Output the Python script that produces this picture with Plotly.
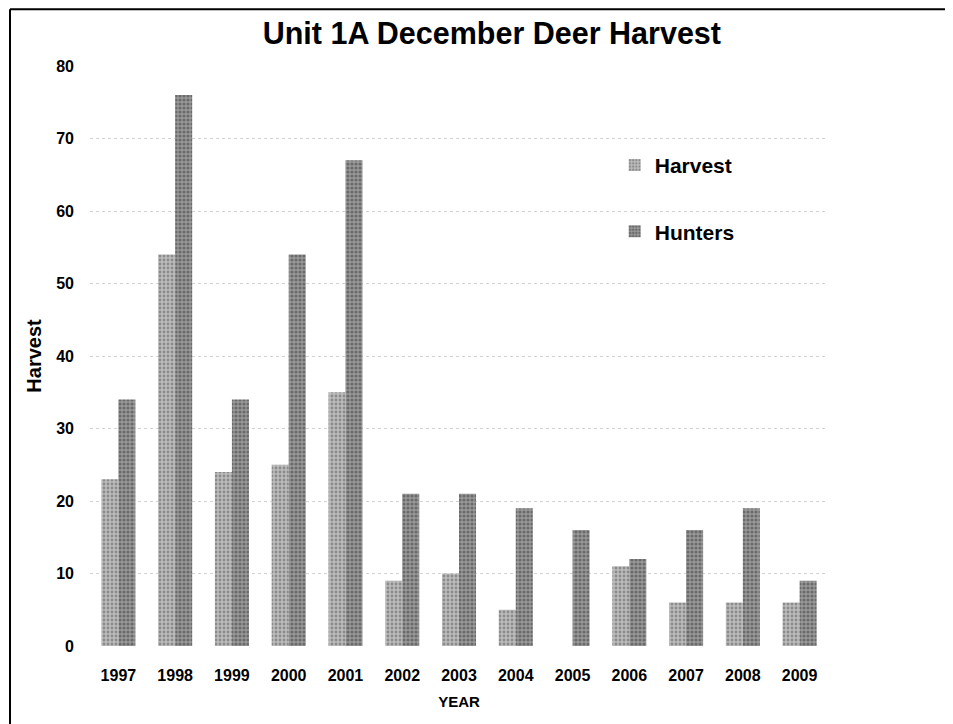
import plotly.graph_objects as go

years = ["1997", "1998", "1999", "2000", "2001", "2002", "2003", "2004", "2005", "2006", "2007", "2008", "2009"]
harvest = [23, 54, 24, 25, 35, 9, 10, 5, 0, 11, 6, 6, 6]
hunters = [34, 76, 34, 54, 67, 21, 21, 19, 16, 12, 16, 19, 9]

FONT = "Liberation Sans, Arial, sans-serif"

fig = go.Figure()
fig.add_trace(go.Bar(
    x=years, y=harvest, name="Harvest", legendgroup="a",
    marker=dict(color="#a8a8a8", line=dict(width=0),
                pattern=dict(shape=".", fgcolor="#5a5a5a", bgcolor="#bcbcbc", size=4, solidity=0.4)),
))
fig.add_trace(go.Bar(
    x=years, y=hunters, name="Hunters", legendgroup="b",
    marker=dict(color="#7e7e7e", line=dict(width=0),
                pattern=dict(shape=".", fgcolor="#3a3a3a", bgcolor="#9a9a9a", size=4, solidity=0.5)),
))

fig.update_layout(
    width=945, height=716,
    margin=dict(l=82, r=125, t=58, b=78, autoexpand=False),
    paper_bgcolor="white", plot_bgcolor="white",
    barmode="group", bargap=0.4, bargroupgap=0,
    title=dict(text="<b>Unit 1A December Deer Harvest</b>", x=0.512, xanchor="center",
               y=0.965, yanchor="middle", font=dict(family=FONT, size=30.5, color="black")),
    font=dict(family=FONT, color="black"),
    legend=dict(x=0.711, y=0.864, xanchor="left", yanchor="top",
                font=dict(family=FONT, size=21, color="black", weight="bold"),
                traceorder="grouped", tracegroupgap=36, itemwidth=30,
                bgcolor="rgba(0,0,0,0)"),
    xaxis=dict(title=dict(text="<b>YEAR</b>", font=dict(size=15), standoff=13),
               tickfont=dict(size=16, weight="bold"), showgrid=False, zeroline=False,
               showline=False, ticks="", ticklabelstandoff=18, automargin=False),
    yaxis=dict(title=dict(text="<b>Harvest</b>", font=dict(size=20), standoff=9),
               range=[0, 80], dtick=10, tickfont=dict(size=16, weight="bold"),
               showgrid=True, gridcolor="#d2d2d2", griddash="dot", gridwidth=1,
               zeroline=False, showline=False, ticks="", ticklabelstandoff=15, automargin=False),
)

# outer frame lines (left and top), as in the scanned page
fig.add_shape(type="line", xref="paper", yref="paper", x0=-0.1084, x1=1.2, y0=1.098, y1=1.098,
              line=dict(color="black", width=2))
fig.add_shape(type="line", xref="paper", yref="paper", x0=-0.1084, x1=-0.1084, y0=-0.14, y1=1.098,
              line=dict(color="black", width=2))

fig.write_html("out.html")
